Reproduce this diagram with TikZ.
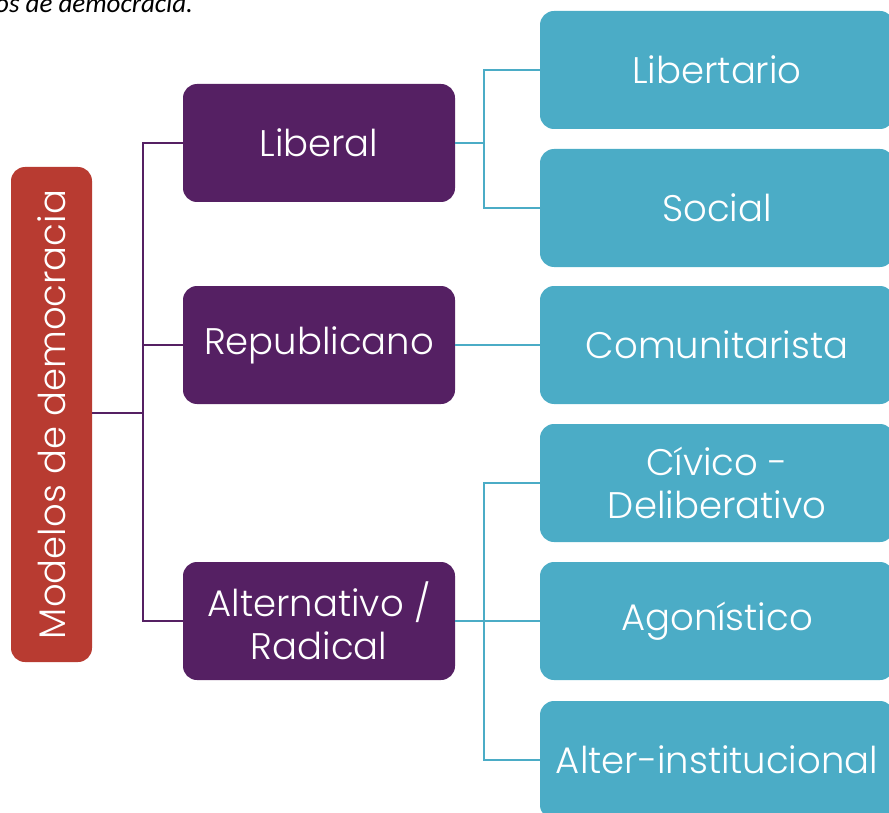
\documentclass[tikz,border=0pt]{standalone}
\usepackage{fontspec}
\setmainfont{Poppins Light}
\newfontfamily\capfont{Carlito}
\definecolor{redbox}{HTML}{B83B31}
\definecolor{purplebox}{HTML}{552063}
\definecolor{tealbox}{HTML}{4BACC6}
\begin{document}
\begin{tikzpicture}[x=1pt,y=-1pt,
  box/.style={rounded corners=14pt, inner sep=0pt, align=center, text=white,
    font=\fontsize{37}{43}\selectfont},
  rootbox/.style={box, fill=redbox, minimum width=495pt, minimum height=81pt, rotate=90},
  midbox/.style={box, fill=purplebox, minimum width=272pt, minimum height=118pt},
  leafbox/.style={box, fill=tealbox, minimum width=354pt, minimum height=118pt},
  plink/.style={draw=purplebox, line width=1.8pt},
  tlink/.style={draw=tealbox, line width=1.8pt}]
\useasboundingbox (0,0) rectangle (889,813);
\node[anchor=base west, font=\capfont\itshape\fontsize{27}{30}\selectfont, inner sep=0pt] (cap) at (-5,13) {os de democracia.};
\node[rootbox] (root) at (51.5,414.5) {Modelos de democracia};
\node[midbox] (lib) at (319,143) {Liberal};
\node[midbox] (rep) at (319,345) {Republicano};
\node[midbox] (alt) at (319,621) {Alternativo /\\Radical};
\node[leafbox] (ltr) at (717,70) {Libertario};
\node[leafbox] (soc) at (717,208) {Social};
\node[leafbox] (com) at (717,345) {Comunitarista};
\node[leafbox] (civ) at (717,483) {Cívico -\\Deliberativo};
\node[leafbox] (ago) at (717,621) {Agonístico};
\node[leafbox] (ait) at (717,760) {Alter-institucional};
\coordinate (pj) at (143,413);
\coordinate (tj1) at (484,143);
\coordinate (tj2) at (484,621);
\draw[plink] (root.south |- pj) -- (pj);
\draw[plink] (pj) |- (lib.west);
\draw[plink] (pj) |- (rep.west);
\draw[plink] (pj) |- (alt.west);
\draw[tlink] (lib.east) -- (tj1);
\draw[tlink] (tj1) |- (ltr.west);
\draw[tlink] (tj1) |- (soc.west);
\draw[tlink] (rep.east) -- (com.west);
\draw[tlink] (alt.east) -- (ago.west);
\draw[tlink] (tj2) |- (civ.west);
\draw[tlink] (tj2) |- (ait.west);
\end{tikzpicture}
\end{document}
